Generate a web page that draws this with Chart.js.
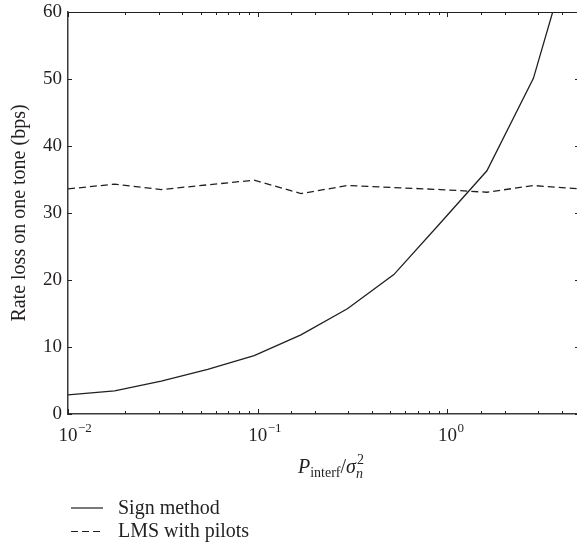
<!DOCTYPE html>
<html>
<head>
<meta charset="utf-8">
<script src="https://cdn.jsdelivr.net/npm/chart.js@4/dist/chart.umd.min.js"></script>
<style>
  html, body { margin: 0; padding: 0; background: #fff; overflow: hidden; }
  #wrap { width: 580px; height: 546px; position: relative; }
</style>
</head>
<body>
<div id="wrap"><canvas id="c"></canvas></div>
<script>
// ---- data ----
const xValues    = [0.01, 0.0176, 0.0310, 0.0545, 0.0958, 0.169, 0.297, 0.522, 0.918, 1.615, 2.84, 5.0];
const signMethod = [2.85, 3.45, 4.9, 6.65, 8.7, 11.8, 15.7, 20.8, 28.5, 36.3, 50.1, 74];
const lmsPilots  = [33.6, 34.3, 33.5, 34.2, 34.9, 32.9, 34.1, 33.8, 33.5, 33.1, 34.1, 33.6];
const seriesNames = ['Sign method', 'LMS with pilots'];
const xMajorTicks = [0.01, 0.1, 1];
const xTickExponents = ['\u22122', '\u22121', '0'];
const yTitle = 'Rate loss on one tone (bps)';

const SERIF = '"Liberation Serif", "DejaVu Serif", serif';
const INK = '#231f20';

const toPts = (ys) => xValues.map((x, i) => ({ x: x, y: ys[i] }));

const decorPlugin = {
  id: 'decor',
  afterDraw(chart) {
    const ctx = chart.ctx;
    const a = chart.chartArea;
    const xs = chart.scales.x, ys = chart.scales.y;
    ctx.save();
    // top frame line
    ctx.strokeStyle = INK;
    ctx.lineWidth = 1;
    ctx.beginPath();
    ctx.moveTo(a.left, a.top + 0.5);
    ctx.lineTo(a.right, a.top + 0.5);
    ctx.stroke();
    // x ticks (inward, bottom & top)
    xs.ticks.forEach(t => {
      const v = t.value;
      const lg = Math.log10(v);
      const major = Math.abs(lg - Math.round(lg)) < 1e-9;
      const len = major ? 5 : 3;
      const px = Math.round(xs.getPixelForValue(v)) + 0.5;
      ctx.beginPath();
      ctx.moveTo(px, a.bottom);
      ctx.lineTo(px, a.bottom - len);
      ctx.moveTo(px, a.top);
      ctx.lineTo(px, a.top + len);
      ctx.stroke();
    });
    // y ticks (inward, left & right)
    ys.ticks.forEach(t => {
      const py = Math.round(ys.getPixelForValue(t.value)) + 0.5;
      ctx.beginPath();
      ctx.moveTo(a.left, py);
      ctx.lineTo(a.left + 4, py);
      ctx.moveTo(a.right, py);
      ctx.lineTo(a.right - 5, py);
      ctx.stroke();
    });
    // x tick labels with superscript exponents
    ctx.fillStyle = INK;
    ctx.textBaseline = 'alphabetic';
    xMajorTicks.forEach((v, i) => {
      const px = xs.getPixelForValue(v);
      ctx.font = '19px ' + SERIF;
      const w = ctx.measureText('10').width;
      ctx.textAlign = 'center';
      ctx.fillText('10', px, a.bottom + 27);
      ctx.font = '13px ' + SERIF;
      ctx.textAlign = 'left';
      ctx.fillText(xTickExponents[i], px + w / 2 + 0.5, a.bottom + 18);
    });
    // x axis title: P_interf / sigma_n^2
    let tx = 298, by = a.bottom + 59;
    ctx.textAlign = 'left';
    ctx.font = 'italic 20px ' + SERIF;
    ctx.fillText('P', tx, by); tx += ctx.measureText('P').width;
    ctx.font = '14px ' + SERIF;
    ctx.fillText('interf', tx, by + 4); tx += ctx.measureText('interf').width;
    ctx.font = '20px ' + SERIF;
    ctx.fillText('/', tx, by); tx += ctx.measureText('/').width;
    ctx.font = 'italic 20px ' + SERIF;
    ctx.fillText('\u03c3', tx, by); tx += ctx.measureText('\u03c3').width;
    ctx.font = 'italic 14px ' + SERIF;
    ctx.fillText('n', tx, by + 5);
    ctx.font = '14px ' + SERIF;
    ctx.fillText('2', tx + 1, by - 9);
    // legend
    const ds = chart.data.datasets;
    const ly = [a.bottom + 94, a.bottom + 117.5];
    ds.forEach((d, i) => {
      ctx.strokeStyle = INK;
      ctx.lineWidth = 1.2;
      ctx.setLineDash(d.borderDash || []);
      ctx.beginPath();
      ctx.moveTo(71, ly[i]);
      ctx.lineTo(103, ly[i]);
      ctx.stroke();
      ctx.setLineDash([]);
      ctx.font = '20px ' + SERIF;
      ctx.fillStyle = INK;
      ctx.textAlign = 'left';
      ctx.fillText(d.label, 118, ly[i] + 5.5);
    });
    ctx.restore();
  }
};

new Chart(document.getElementById('c'), {
  type: 'line',
  data: {
    datasets: [
      { label: seriesNames[0], data: toPts(signMethod), borderColor: INK, borderWidth: 1.3,
        pointRadius: 0, tension: 0, fill: false },
      { label: seriesNames[1], data: toPts(lmsPilots), borderColor: INK, borderWidth: 1.3,
        borderDash: [7, 4], pointRadius: 0, tension: 0, fill: false }
    ]
  },
  options: {
    responsive: true,
    maintainAspectRatio: false,
    animation: false,
    layout: { padding: { top: 12, right: 0, bottom: 0, left: 0 } },
    plugins: { legend: { display: false }, tooltip: { enabled: false } },
    scales: {
      x: {
        type: 'logarithmic',
        min: 0.01, max: 5,
        grid: { display: false, drawTicks: false },
        border: { display: true, color: '#3a3a3a', width: 1.5 },
        ticks: { display: false },
        afterFit(s) { s.height = 132; s.paddingLeft = 0; s.paddingRight = 0; }
      },
      y: {
        type: 'linear',
        min: 0, max: 60,
        grid: { display: false, drawTicks: false },
        border: { display: true, color: '#3a3a3a', width: 1.5 },
        ticks: { stepSize: 10, padding: 6, color: INK, font: { family: SERIF, size: 19 } },
        title: { display: true, text: yTitle, color: INK, font: { family: SERIF, size: 20 }, padding: { top: 8, bottom: 0 } },
        afterFit(s) { s.width = 68; s.paddingTop = 0; s.paddingBottom = 0; }
      }
    }
  },
  plugins: [decorPlugin]
});
</script>
</body>
</html>
